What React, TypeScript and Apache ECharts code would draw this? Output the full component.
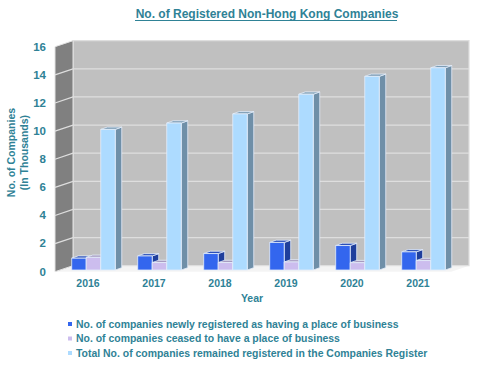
import React, { useEffect, useRef } from "react";
import * as echarts from "echarts";

const years = ["2016", "2017", "2018", "2019", "2020", "2021"];
const newlyRegistered = [0.84, 1.0, 1.17, 1.96, 1.74, 1.29];
const ceased = [0.9, 0.53, 0.53, 0.57, 0.52, 0.67];
const totalRemained = [10.0, 10.45, 11.1, 12.5, 13.77, 14.38];
const yTicks = [0, 2, 4, 6, 8, 10, 12, 14, 16];
const seriesNames = [
  "No. of companies newly registered as having a place of business",
  "No. of companies ceased to have a place of business",
  "Total No. of companies remained registered in the Companies Register",
];
const faces = [
  { front: "#3366EE", side: "#1F3F9C", top: "#2A4FB8" },
  { front: "#CCBDEE", side: "#8F84A8", top: "#A79BC0" },
  { front: "#ADDBFF", side: "#6F8FA8", top: "#7D9DB5" },
];

const TEAL = "#2F8296";
const FONT = "Liberation Sans, Arial, sans-serif";
const DX = 18;
const FRONT_DY = 1.7;
const BACK_DY = -4.3;

function poly(points: number[][], fill: string, stroke?: string, lineWidth = 1) {
  return {
    type: "polygon",
    shape: { points },
    style: { fill, stroke: stroke || "none", lineWidth },
  };
}

function barSeries(idx: number, values: number[]) {
  const c = faces[idx];
  return {
    type: "custom",
    name: seriesNames[idx],
    coordinateSystem: "cartesian2d",
    itemStyle: { color: c.front },
    clip: false,
    z: 3 + idx,
    data: values.map((v, i) => [years[i], v]),
    encode: { x: 0, y: 1 },
    renderItem: (_p: any, api: any) => {
      const top = api.coord([api.value(0), api.value(1)]);
      const base = api.coord([api.value(0), 0]);
      const band = api.size([1, 0])[0];
      const w = band * 0.22;
      const x0 = top[0] + band * (-0.247 + idx * 0.22);
      const x1 = x0 + w;
      const dx = 6.5;
      const dy = -2.3;
      const s = "#E4EEFA";
      return {
        type: "group",
        children: [
          poly([[x1, top[1]], [x1 + dx, top[1] + dy], [x1 + dx, base[1] + dy], [x1, base[1]]], c.side, s, 0.8),
          poly([[x0, top[1]], [x0 + dx, top[1] + dy], [x1 + dx, top[1] + dy], [x1, top[1]]], c.top, s, 0.8),
          poly([[x0, top[1]], [x1, top[1]], [x1, base[1]], [x0, base[1]]], c.front, s, 0.8),
        ],
      };
    },
  };
}

export default function App() {
  const ref = useRef<HTMLDivElement>(null);
  useEffect(() => {
    const chart = echarts.init(ref.current!, undefined, { renderer: "svg" });
    chart.setOption({
      animation: false,
      backgroundColor: "#fff",
      title: {
        text: "No. of Registered Non-Hong Kong Companies",
        left: 262,
        top: 3,
        textAlign: "center",
        textStyle: { color: TEAL, fontFamily: FONT, fontSize: 12, fontWeight: "bold" },
      },
      graphic: [
        { type: "line", shape: { x1: 135, y1: 20.5, x2: 397, y2: 20.5 }, style: { stroke: TEAL, lineWidth: 1 } },
        {
          type: "text",
          x: 17.5,
          y: 152.5,
          rotation: Math.PI / 2,
          style: {
            text: "No. of Companies\n(In Thousands)",
            fill: TEAL,
            font: `bold 10.5px ${FONT}`,
            align: "center",
            verticalAlign: "middle",
            lineHeight: 13,
          },
        },
      ],
      legend: {
        left: 68,
        top: 319,
        orient: "vertical",
        itemWidth: 4,
        itemHeight: 4,
        itemGap: 4.5,
        icon: "rect",
        padding: 0,
        data: seriesNames,
        textStyle: { color: TEAL, fontFamily: FONT, fontSize: 10.45, fontWeight: "bold", padding: [0, 0, 0, -1] },
      },
      grid: { left: 55, right: 41, top: 45, bottom: 105 },
      xAxis: {
        type: "category",
        data: years,
        name: "Year",
        nameLocation: "middle",
        nameGap: 21,
        nameTextStyle: { color: TEAL, fontFamily: FONT, fontSize: 10.5, fontWeight: "bold", padding: [0, 0, 0, -2] },
        axisLine: { show: false },
        axisTick: { show: false },
        axisLabel: { color: TEAL, fontFamily: FONT, fontSize: 10.5, fontWeight: "bold", margin: 7 },
      },
      yAxis: {
        type: "value",
        min: 0,
        max: 16,
        interval: 2,
        axisLine: { show: false },
        axisTick: { show: false },
        splitLine: { show: false },
        axisLabel: { color: TEAL, fontFamily: FONT, fontSize: 11.5, fontWeight: "bold", margin: 9, verticalAlign: "top", lineHeight: 3 },
      },
      series: [
        {
          type: "custom",
          silent: true,
          clip: false,
          z: 1,
          data: [[years[0], 16]],
          encode: { x: 0, y: 1 },
          renderItem: (p: any) => {
            const { x, y, width: w, height: h } = p.coordSys;
            const b = y + h;
            return {
              type: "group",
              children: [
                poly([[x, b + FRONT_DY], [x + DX, b + BACK_DY], [x + w + DX, b + BACK_DY], [x + w, b + FRONT_DY]], "#F4F4F4"),
                poly([[x + DX, y + BACK_DY], [x + w + DX, y + BACK_DY], [x + w + DX, b + BACK_DY], [x + DX, b + BACK_DY]], "#C0C0C0", "#DEDEDE", 1.2),
                poly([[x, y + FRONT_DY], [x + DX, y + BACK_DY], [x + DX, b + BACK_DY], [x, b + FRONT_DY]], "#808080", "#E2E2E2", 1),
              ],
            };
          },
        },
        {
          type: "custom",
          silent: true,
          clip: false,
          z: 2,
          data: yTicks.filter((t) => t > 0 && t < 16).map((t) => [years[0], t]),
          encode: { x: 0, y: 1 },
          renderItem: (p: any, api: any) => {
            const yy = api.coord([api.value(0), api.value(1)])[1];
            const { x, width: w } = p.coordSys;
            return {
              type: "polyline",
              shape: { points: [[x, yy + FRONT_DY], [x + DX, yy + BACK_DY], [x + w + DX, yy + BACK_DY]] },
              style: { stroke: "#DEDEDE", lineWidth: 1.2, fill: "none" },
            };
          },
        },
        barSeries(0, newlyRegistered),
        barSeries(1, ceased),
        barSeries(2, totalRemained),
      ],
    });
    return () => chart.dispose();
  }, []);
  return <div ref={ref} style={{ position: "fixed", left: 0, top: 0, width: 492, height: 375 }} />;
}
